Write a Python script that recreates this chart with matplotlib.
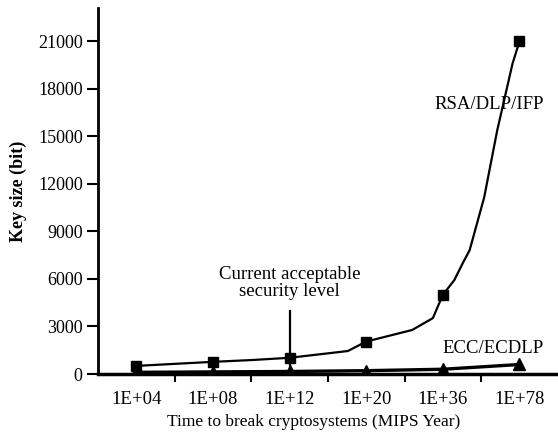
import numpy as np
import matplotlib.pyplot as plt

plt.rcParams['font.family'] = ['Liberation Serif', 'DejaVu Serif']

# categories on the x axis (MIPS years to break)
categories = ['1E+04', '1E+08', '1E+12', '1E+20', '1E+36', '1E+78']

# key sizes at each category
rsa_bits = [512, 768, 1024, 2048, 5000, 21000]
ecc_bits = [106, 132, 160, 210, 300, 600]

# RSA curve (category position, key size)
rsa_curve_x = [0, 1, 1.5, 2, 2.76, 3, 3.6, 3.87, 4, 4.15, 4.26, 4.35, 4.54, 4.71, 4.91, 5]
rsa_curve_y = [512, 768, 880, 1024, 1450, 2048, 2780, 3530, 5000, 5930, 7000, 7820,
               11160, 15390, 19610, 21000]

y_ticks = [0, 3000, 6000, 9000, 12000, 15000, 18000, 21000]

fig = plt.figure(figsize=(5.58, 4.36), dpi=100)
ax = fig.add_axes([0.1756, 0.1422, 0.824, 0.839])

x = np.arange(len(categories))

ax.plot(rsa_curve_x, rsa_curve_y, color='black', lw=1.6)
ax.plot(x, rsa_bits, ls='none', marker='s', ms=7.5, color='black')
ax.plot(x, ecc_bits, color='black', lw=2.4, marker='^', ms=8)

# current security level marker
ax.plot([2, 2], [0, 4000], color='black', lw=1.6)
ax.text(2, 5750, 'Current acceptable\nsecurity level', ha='center', va='center',
        fontsize=13.5, linespacing=1.05)

ax.text(4.6, 17000, 'RSA/DLP/IFP', ha='center', va='center', fontsize=13.5)
ax.text(4.65, 1640, 'ECC/ECDLP', ha='center', va='center', fontsize=13.5)

ax.set_xlim(-0.5, 5.5)
ax.set_ylim(0, 23100)

ax.set_xticks(x)
ax.set_xticklabels(categories, fontsize=13.5)
ax.set_xticks(np.arange(0.5, 5, 1), minor=True)
ax.tick_params(axis='x', which='major', length=0, pad=12)
ax.tick_params(axis='x', which='minor', length=6, width=1.5, direction='out')

ax.set_yticks(y_ticks)
ax.set_yticklabels([str(v) for v in y_ticks], fontsize=13)
ax.tick_params(axis='y', length=8, width=1.5, direction='out', pad=3)

ax.set_xlabel('Time to break cryptosystems (MIPS Year)', fontsize=12.5)
ax.xaxis.set_label_coords(0.47, -0.108)
ax.set_ylabel('Key size (bit)', fontsize=13, fontweight='bold', labelpad=8)

for side in ['top', 'right']:
    ax.spines[side].set_visible(False)
ax.spines['left'].set_linewidth(2)
ax.spines['bottom'].set_linewidth(2.5)

fig.savefig('out.png', dpi=100)
